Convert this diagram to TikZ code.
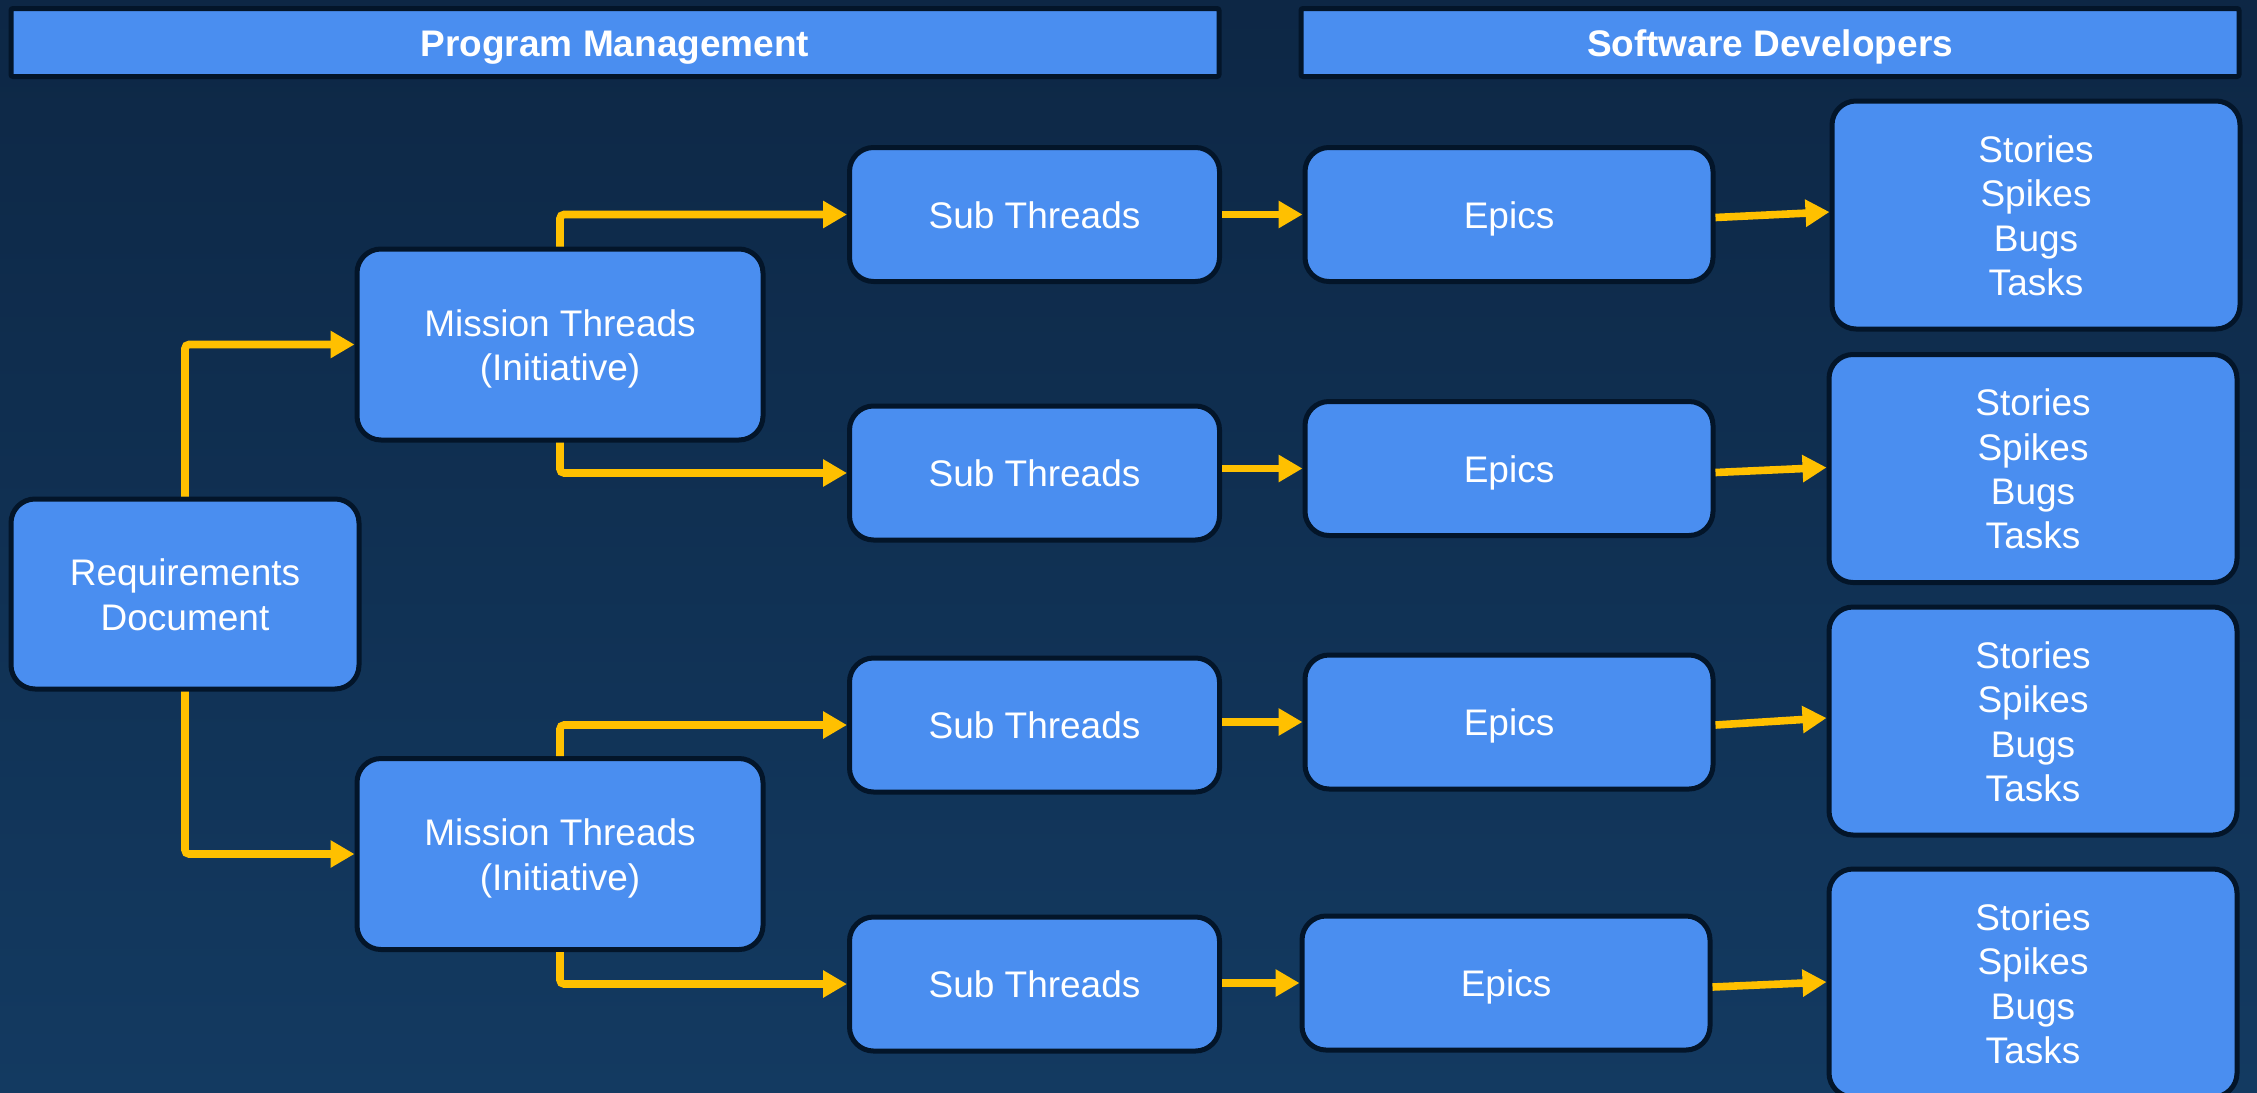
\documentclass[tikz,border=0pt]{standalone}
\usepackage{xcolor}
\usepackage{fontspec}
\setmainfont{Liberation Sans}
\usepackage{tikz}
\usetikzlibrary{arrows.meta}

\definecolor{bgtop}{RGB}{13,39,69}
\definecolor{bgbot}{RGB}{19,58,97}
\definecolor{boxblue}{RGB}{74,142,240}
\definecolor{boxedge}{RGB}{3,21,41}
\definecolor{flowgold}{RGB}{255,192,0}

\begin{document}
\begin{tikzpicture}[x=0.5pt,y=0.5pt,yscale=-1,xscale=1,
	blk/.style={draw=boxedge, fill=boxblue, line width=2.5pt, rounded corners=12pt, text=white, align=center, inner sep=0pt, text height=18pt, text depth=4.2pt, font=\fontsize{18.5}{22.2}\selectfont},
	twoline/.style={text height=40.2pt},
	fourline/.style={text height=84.6pt},
	hdr/.style={blk, rounded corners=1pt, font=\fontsize{18.5}{22.2}\selectfont\bfseries},
	flow/.style={draw=flowgold, line width=3.8pt, rounded corners=2pt, -{Triangle[length=12pt,width=13pt]}}
	]
		\useasboundingbox (0,0) rectangle (2257,1092);
		%Shape: Background
		\shade [top color=bgtop, bottom color=bgbot] (0,0) rectangle (2257,1092);
		
		% Header Nodes
		\node [hdr, minimum width=604pt, minimum height=34pt] (pm) at (615,42.5) {Program Management};
		\node [hdr, minimum width=469pt, minimum height=34pt] (sd) at (1770,42.5) {Software Developers};
		
		% Text Node
		\node [blk, twoline, minimum width=174pt, minimum height=95pt] (req) at (185,594) {Requirements\\Document};
		% Text Node
		\node [blk, twoline, minimum width=203pt, minimum height=95.5pt] (mt1) at (560,344.5) {Mission Threads\\(Initiative)};
		\node [blk, twoline, minimum width=203pt, minimum height=95.5pt] (mt2) at (560,854) {Mission Threads\\(Initiative)};
		% Text Node
		\node [blk, minimum width=185pt, minimum height=67pt] (st1) at (1034.5,214.5) {Sub Threads};
		\node [blk, minimum width=185pt, minimum height=67pt] (st2) at (1034.5,473) {Sub Threads};
		\node [blk, minimum width=185pt, minimum height=67pt] (st3) at (1034.5,725) {Sub Threads};
		\node [blk, minimum width=185pt, minimum height=67pt] (st4) at (1034.5,984) {Sub Threads};
		% Text Node
		\node [blk, minimum width=204pt, minimum height=67pt] (ep1) at (1509,214.5) {Epics};
		\node [blk, minimum width=204pt, minimum height=67pt] (ep2) at (1509,468.5) {Epics};
		\node [blk, minimum width=204pt, minimum height=67pt] (ep3) at (1509,722) {Epics};
		\node [blk, minimum width=204pt, minimum height=67pt] (ep4) at (1506,983) {Epics};
		% Text Node
		\node [blk, fourline, minimum width=204pt, minimum height=114pt] (wk1) at (2036,215) {Stories\\Spikes\\Bugs\\Tasks};
		\node [blk, fourline, minimum width=204pt, minimum height=114pt] (wk2) at (2033,468.5) {Stories\\Spikes\\Bugs\\Tasks};
		\node [blk, fourline, minimum width=204pt, minimum height=114pt] (wk3) at (2033,721) {Stories\\Spikes\\Bugs\\Tasks};
		\node [blk, fourline, minimum width=204pt, minimum height=114pt] (wk4) at (2033,983) {Stories\\Spikes\\Bugs\\Tasks};
		
		%Straight Lines [id:flows]
		\draw [flow] (req.north) |- (mt1.west);
		\draw [flow] (req.south) |- (mt2.west);
		\draw [flow] (mt1.north) |- (st1.west);
		\draw [flow] (mt1.south) |- (st2.west);
		\draw [flow] (mt2.north) |- (st3.west);
		\draw [flow] (mt2.south) |- (st4.west);
		
		\draw [flow] (ep1.west -| st1.east) -- (ep1.west);
		\draw [flow] (ep2.west -| st2.east) -- (ep2.west);
		\draw [flow] (ep3.west -| st3.east) -- (ep3.west);
		\draw [flow] (ep4.west -| st4.east) -- (ep4.west);
		
		\draw [flow] ([yshift=1.5pt]ep1.east) -- ([yshift=-1.5pt]wk1.west);
		\draw [flow] ([yshift=2pt]ep2.east) -- ([yshift=-0.5pt]wk2.west);
		\draw [flow] ([yshift=1.5pt]ep3.east) -- ([yshift=-1.5pt]wk3.west);
		\draw [flow] ([yshift=2pt]ep4.east) -- ([yshift=-0.5pt]wk4.west);
		
\end{tikzpicture}
\end{document}
